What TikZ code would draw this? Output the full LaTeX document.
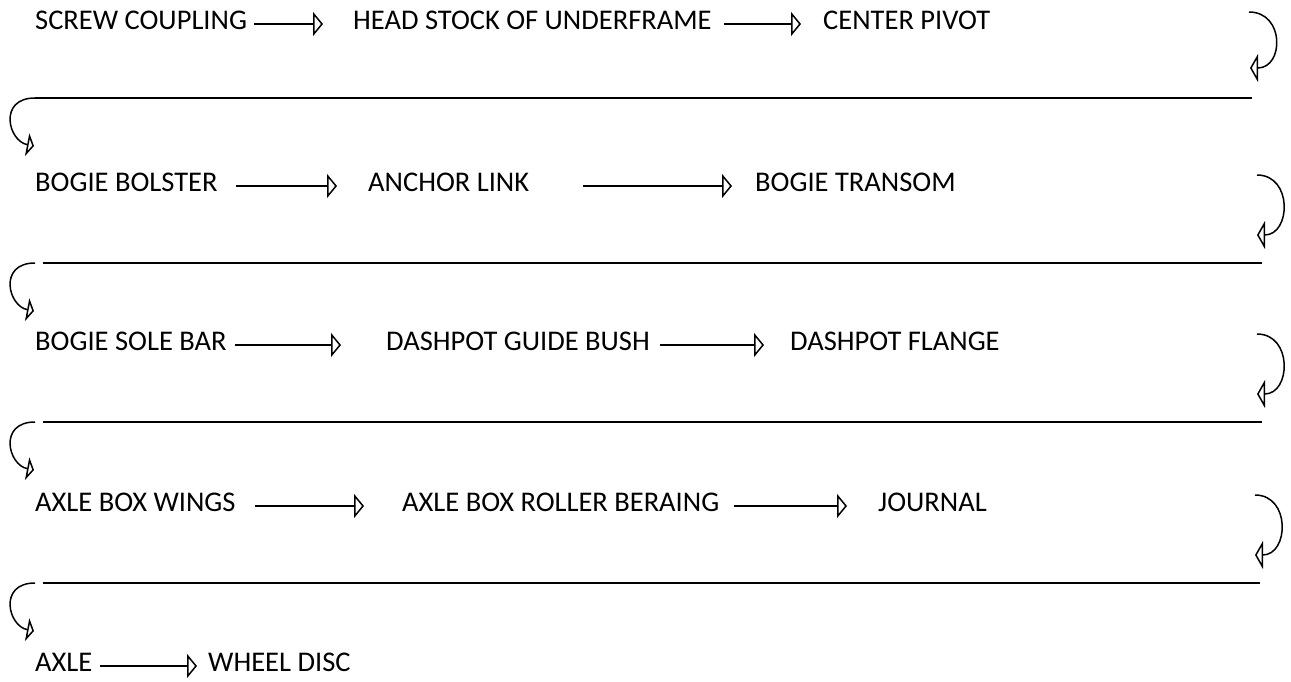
\documentclass[tikz,border=0pt]{standalone}
\usepackage{fontspec}
\setmainfont{Carlito}
\usetikzlibrary{arrows.meta}

\begin{document}
\begin{tikzpicture}[x=1pt, y=-1pt,
    every node/.style={font=\fontsize{28.5}{34}\selectfont, inner sep=0pt,
      anchor=base west, text height=18pt, text depth=0pt},
    flow/.style={-{Triangle[open, length=10pt, width=24pt]}, line width=1.5pt},
    turn/.style={-{Triangle[open, length=8pt, width=28pt]}, line width=1.5pt},
    back/.style={-{Triangle[open, length=7pt, width=23pt]}, line width=1.5pt},
    rule/.style={line width=1.5pt}]
  \useasboundingbox (0,0) rectangle (1291,681);

  % steps, one row after the other
  \node (sc) at (35,29)   {SCREW COUPLING};
  \node (hs) at (353,29)  {HEAD STOCK OF UNDERFRAME};
  \node (cp) at (823,29)  {CENTER PIVOT};
  \node (bb) at (35,191)  {BOGIE BOLSTER};
  \node (al) at (368,191) {ANCHOR LINK};
  \node (bt) at (755,191) {BOGIE TRANSOM};
  \node (sb) at (35,350)  {BOGIE SOLE BAR};
  \node (gb) at (386,350) {DASHPOT GUIDE BUSH};
  \node (df) at (790,350) {DASHPOT FLANGE};
  \node (aw) at (35,511)  {AXLE BOX WINGS};
  \node (rb) at (402,511) {AXLE BOX ROLLER BERAING};
  \node (jr) at (878,511) {JOURNAL};
  \node (ax) at (35,671)  {AXLE};
  \node (wd) at (208,671) {WHEEL DISC};

  \draw[flow, shorten <=7pt, shorten >=30pt]  ([yshift=-4pt]sc.east) -- ([yshift=-4pt]hs.west);
  \draw[flow, shorten <=12pt, shorten >=22pt] ([yshift=-4pt]hs.east) -- ([yshift=-4pt]cp.west);
  \draw[flow, shorten <=18pt, shorten >=31pt] ([yshift=-4pt]bb.east) -- ([yshift=-4pt]al.west);
  \draw[flow, shorten <=54pt, shorten >=23pt] ([yshift=-4pt]al.east) -- ([yshift=-4pt]bt.west);
  \draw[flow, shorten <=8pt, shorten >=45pt]  ([yshift=-4pt]sb.east) -- ([yshift=-4pt]gb.west);
  \draw[flow, shorten <=10pt, shorten >=26pt] ([yshift=-4pt]gb.east) -- ([yshift=-4pt]df.west);
  \draw[flow, shorten <=19pt, shorten >=38pt] ([yshift=-4pt]aw.east) -- ([yshift=-4pt]rb.west);
  \draw[flow, shorten <=14pt, shorten >=31pt] ([yshift=-4pt]rb.east) -- ([yshift=-4pt]jr.west);
  \draw[flow, shorten <=7pt, shorten >=11pt]  ([yshift=-4pt]ax.east) -- ([yshift=-4pt]wd.west);

  % long return lines between the rows
  \coordinate (l1w) at (35,98);  \coordinate (l1e) at (1252,98);
  \coordinate (l2w) at (43,263); \coordinate (l2e) at (1262,263);
  \coordinate (l3w) at (43,422); \coordinate (l3e) at (1262,422);
  \coordinate (l4w) at (43,583); \coordinate (l4e) at (1260,583);
  \draw[rule] (l1w) -- (l1e);
  \draw[rule] (l2w) -- (l2e);
  \draw[rule] (l3w) -- (l3e);
  \draw[rule] (l4w) -- (l4e);

  % turn down at the right end
  \draw[turn] (l1e) ++(-3,-86) .. controls +(36,0) and +(34,0) .. ++(1,56);
  \draw[turn] (l2e) ++(-5,-88) .. controls +(36,0) and +(34,0) .. ++(0,60);
  \draw[turn] (l3e) ++(-5,-88) .. controls +(36,0) and +(34,0) .. ++(0,60);
  \draw[turn] (l4e) ++(-5,-88) .. controls +(36,0) and +(34,0) .. ++(0,60);
  % and come back at the left end
  \draw[back] (l1w) .. controls +(-37,0) and +(-26,-5) .. ++(-1,48);
  \draw[back] (l2w) ++(-8,0) .. controls +(-37,0) and +(-26,-5) .. ++(-1,48);
  \draw[back] (l3w) ++(-8,0) .. controls +(-37,0) and +(-26,-5) .. ++(-1,48);
  \draw[back] (l4w) ++(-8,0) .. controls +(-37,0) and +(-26,-5) .. ++(-1,48);
\end{tikzpicture}
\end{document}
